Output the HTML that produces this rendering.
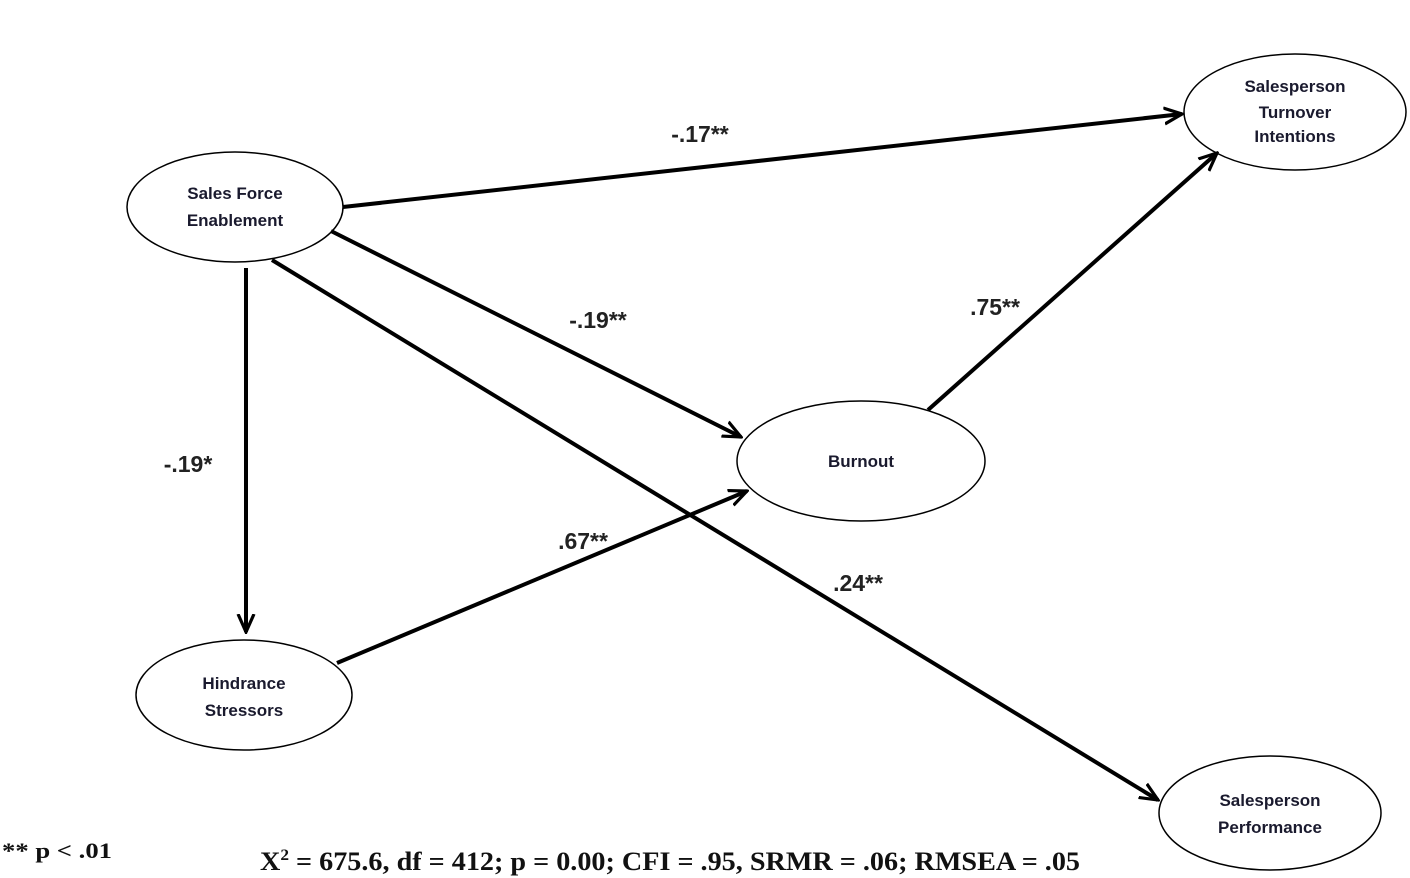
<!DOCTYPE html>
<html><head><meta charset="utf-8"><style>
html,body{margin:0;padding:0;background:#fff;}
svg{display:block;}
.n{font-family:"Liberation Sans",sans-serif;font-size:17px;font-weight:bold;fill:#1a1a2e;text-anchor:middle;}
.l{font-family:"Liberation Sans",sans-serif;font-size:23px;font-weight:bold;fill:#222;text-anchor:middle;}
.f{font-family:"Liberation Serif",serif;font-weight:bold;fill:#111;}
</style></head><body>
<svg width="1410" height="878" viewBox="0 0 1410 878" xmlns="http://www.w3.org/2000/svg">
<defs>
<marker id="a" viewBox="0 0 10 10" refX="9" refY="5" markerWidth="5" markerHeight="5" orient="auto" markerUnits="strokeWidth">
<path d="M0,1 L9,5 L0,9" fill="none" stroke="#000" stroke-width="1.6"/>
</marker>
</defs>
<g fill="#fff" stroke="#000" stroke-width="1.5">
<ellipse cx="235" cy="207" rx="108" ry="55"/>
<ellipse cx="1295" cy="112" rx="111" ry="58"/>
<ellipse cx="861" cy="461" rx="124" ry="60"/>
<ellipse cx="244" cy="695" rx="108" ry="55"/>
<ellipse cx="1270" cy="813" rx="111" ry="57"/>
</g>
<g stroke="#000" stroke-width="4" fill="none" marker-end="url(#a)">
<line x1="343" y1="207" x2="1182" y2="114"/>
<line x1="331" y1="231" x2="741" y2="437"/>
<line x1="928" y1="410" x2="1217" y2="153"/>
<line x1="246" y1="268" x2="246" y2="632"/>
<line x1="337" y1="663" x2="747" y2="491"/>
<line x1="272" y1="260" x2="1158" y2="800"/>
</g>
<text class="n" x="235" y="199">Sales Force</text>
<text class="n" x="235" y="226">Enablement</text>
<text class="n" x="1295" y="92">Salesperson</text>
<text class="n" x="1295" y="118">Turnover</text>
<text class="n" x="1295" y="142">Intentions</text>
<text class="n" x="861" y="467">Burnout</text>
<text class="n" x="244" y="689">Hindrance</text>
<text class="n" x="244" y="716">Stressors</text>
<text class="n" x="1270" y="806">Salesperson</text>
<text class="n" x="1270" y="833">Performance</text>
<text class="l" x="700" y="142">-.17**</text>
<text class="l" x="598" y="328">-.19**</text>
<text class="l" x="995" y="315">.75**</text>
<text class="l" x="188" y="472">-.19*</text>
<text class="l" x="583" y="549">.67**</text>
<text class="l" x="858" y="591">.24**</text>
<text class="f" x="2" y="858" font-size="22" textLength="110" lengthAdjust="spacingAndGlyphs">** p &lt; .01</text>
<text class="f" x="260" y="870" font-size="26" textLength="820" lengthAdjust="spacingAndGlyphs">X<tspan font-size="16" dy="-10">2</tspan><tspan dy="10"> = 675.6, df = 412; p = 0.00; CFI = .95, SRMR = .06; RMSEA = .05</tspan></text>
</svg>
</body></html>
